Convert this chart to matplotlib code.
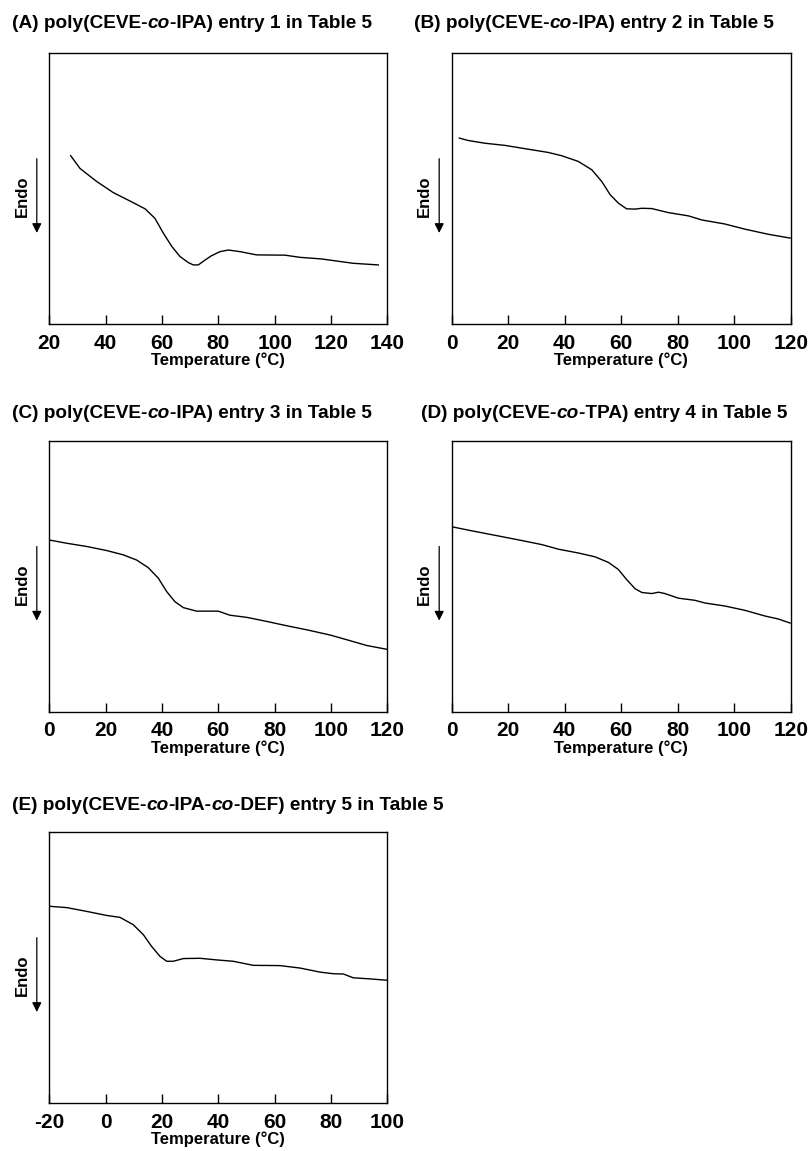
import numpy as np
import matplotlib
matplotlib.use('Agg')
import matplotlib.pyplot as plt

plt.rcParams['font.family'] = ['Liberation Sans', 'DejaVu Sans']
plt.rcParams['axes.unicode_minus'] = False

# DSC traces (y = relative heat flow, 0..1 of the frame)
T_a = [27.6, 30.9, 36.8, 42.7, 48.6, 54.0, 57.5, 60.5, 63.5, 66.4, 69.3, 71.1,
       72.9, 75.3, 77.6, 80.6, 83.6, 87.7, 93.6, 103.7, 109.0, 116.7, 127.9, 136.8]
H_a = [0.621, 0.574, 0.526, 0.485, 0.454, 0.425, 0.390, 0.335, 0.286, 0.249, 0.227, 0.218,
       0.218, 0.236, 0.252, 0.267, 0.273, 0.267, 0.255, 0.254, 0.246, 0.240, 0.224, 0.218]

T_b = [2.7, 5.9, 11.8, 18.9, 27.1, 34.2, 38.9, 44.8, 49.6, 53.1, 56.1, 59.0,
       61.9, 64.9, 67.3, 70.8, 76.7, 83.8, 88.5, 96.7, 103.8, 112.1, 119.8]
H_b = [0.686, 0.677, 0.667, 0.659, 0.645, 0.633, 0.621, 0.600, 0.569, 0.526, 0.477, 0.446,
       0.425, 0.424, 0.427, 0.426, 0.411, 0.399, 0.384, 0.369, 0.350, 0.331, 0.317]

T_c = [0, 6.2, 13.3, 20.4, 26.3, 31.0, 35.1, 38.7, 41.7, 44.6, 47.6, 52.3,
       60.0, 64.1, 70.1, 77.2, 84.3, 91.4, 99.6, 106.7, 112.7, 119.8]
H_c = [0.634, 0.622, 0.610, 0.595, 0.579, 0.560, 0.532, 0.493, 0.443, 0.406, 0.384, 0.371,
       0.371, 0.356, 0.348, 0.333, 0.317, 0.302, 0.283, 0.262, 0.244, 0.230]

T_d = [0, 7.1, 16.5, 25.8, 31.9, 37.8, 44.8, 50.7, 55.5, 59.0, 61.9, 64.9,
       67.3, 70.8, 73.2, 75.5, 80.2, 86.1, 89.7, 96.7, 103.8, 110.9, 115.6, 119.8]
H_d = [0.683, 0.668, 0.649, 0.630, 0.617, 0.600, 0.586, 0.572, 0.551, 0.525, 0.488, 0.454,
       0.440, 0.436, 0.441, 0.436, 0.419, 0.411, 0.401, 0.390, 0.374, 0.353, 0.342, 0.327]

T_e = [-20, -13.8, -6.7, 0.4, 5.1, 9.8, 13.4, 16.3, 19.3, 21.7, 24.0, 27.6,
       33.5, 39.4, 45.3, 52.4, 61.9, 69.0, 76.1, 80.8, 84.4, 87.9, 93.8, 99.8]
H_e = [0.726, 0.721, 0.707, 0.692, 0.685, 0.658, 0.621, 0.578, 0.541, 0.523, 0.523, 0.533,
       0.534, 0.528, 0.523, 0.508, 0.507, 0.498, 0.483, 0.477, 0.476, 0.462, 0.458, 0.453]

titles = [
    ['(A) poly(CEVE-', 'co', '-IPA) entry 1 in Table 5'],
    ['(B) poly(CEVE-', 'co', '-IPA) entry 2 in Table 5'],
    ['(C) poly(CEVE-', 'co', '-IPA) entry 3 in Table 5'],
    ['(D) poly(CEVE-', 'co', '-TPA) entry 4 in Table 5'],
    ['(E) poly(CEVE-', 'co', '-IPA-', 'co', '-DEF) entry 5 in Table 5'],
]
xlims = [(20, 140), (0, 120), (0, 120), (0, 120), (-20, 100)]
traces = [(T_a, H_a), (T_b, H_b), (T_c, H_c), (T_d, H_d), (T_e, H_e)]

W, H = 811, 1151
fig = plt.figure(figsize=(W / 100, H / 100), dpi=100)

# frame boxes in pixels: left, top, right, bottom
boxes = [(49.3, 53, 387.3, 324), (451.7, 53, 790.7, 324),
         (49.3, 441, 387.3, 711.5), (451.7, 441, 790.7, 711.5),
         (49.3, 832, 387.3, 1103)]
title_pos = [(12, 23), (414, 23), (12, 413), (421, 413), (12, 805)]

for i in range(5):
    l, t, r, b = boxes[i]
    ax = fig.add_axes([l / W, 1 - b / H, (r - l) / W, (b - t) / H])
    x, y = traces[i]
    ax.plot(x, y, color='black', lw=1.0)
    lo, hi = xlims[i]
    ax.set_xlim(lo, hi)
    ax.set_ylim(0, 1)
    ax.set_xticks(np.arange(lo, hi + 1, 20))
    ax.set_yticks([])
    ax.tick_params(axis='x', direction='in', length=6.5, width=1.0, pad=7,
                   labelsize=15)
    for lab in ax.get_xticklabels():
        lab.set_fontweight('bold')
    for s in ax.spines.values():
        s.set_linewidth(1.0)
    ax.set_xlabel('Temperature (\u00b0C)', fontsize=12,
                  fontweight='bold', labelpad=0)
    # Endo arrow
    ax.annotate('', xy=(-12.5 / (r - l), 0.336), xytext=(-12.5 / (r - l), 0.61),
                xycoords='axes fraction', textcoords='axes fraction',
                arrowprops=dict(arrowstyle='-|>', color='black', lw=0.9,
                                mutation_scale=14, shrinkA=0, shrinkB=0),
                annotation_clip=False)
    ax.text(-27 / (r - l), 0.47, 'Endo', transform=ax.transAxes, rotation=90,
            ha='center', va='center', fontsize=12, fontweight='bold')

    # title made of bold and bold-italic pieces, chained left to right
    tx, ty = title_pos[i]
    prev = fig.text(tx / W, 1 - ty / H, titles[i][0], fontsize=13.7,
                    fontweight='bold', ha='left', va='center')
    for piece in titles[i][1:]:
        style = 'italic' if piece == 'co' else 'normal'
        prev = ax.annotate(piece, xy=(1, 0), xycoords=prev, ha='left', va='bottom',
                           fontsize=13.7, fontweight='bold', style=style,
                           annotation_clip=False)

fig.savefig('out.png', dpi=100)
